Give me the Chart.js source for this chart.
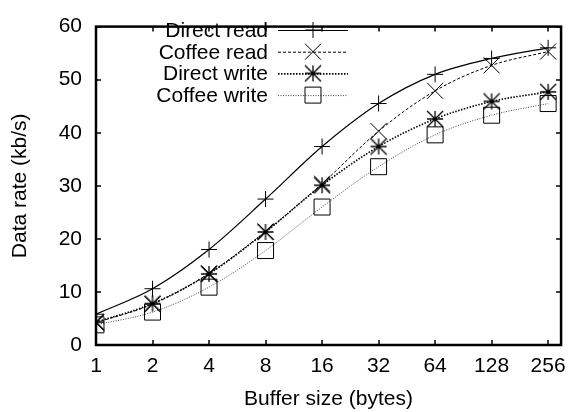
<!DOCTYPE html>
<html lang="en">
<head>
    <meta charset="UTF-8">
    <title>Data rate vs buffer size</title>
    <script src="https://cdn.jsdelivr.net/npm/chart.js"></script>
    <style>
        html, body { margin: 0; padding: 0; background: #fff; }
    </style>
</head>
<body>
    <canvas id="rateChart" width="575" height="412"></canvas>

    <script>
        // Buffer sizes (bytes), plotted on a log2 axis (xrange 1..300)
        const sizes = [1, 2, 4, 8, 16, 32, 64, 128, 256];
        const xMaxSize = 300;
        const yTicks = [0, 10, 20, 30, 40, 50, 60];

        // Data rate in kb/s
        const directRead  = [5.8, 10.6, 18.0, 27.5, 37.4, 45.5, 51.0, 54.0, 56.0];
        const coffeeRead  = [4.2, 7.7, 13.5, 21.4, 30.4, 40.3, 47.9, 52.7, 55.3];
        const directWrite = [4.3, 7.8, 13.4, 21.3, 30.1, 37.4, 42.6, 45.9, 47.7];
        const coffeeWrite = [3.8, 6.2, 10.9, 17.8, 26.0, 33.6, 39.6, 43.3, 45.5];

        const FONT = 'Liberation Sans, Arial, Helvetica, sans-serif';
        const FSIZE = 21;

        // gnuplot-like "*" marker: + and x sharing the same box
        function starMarker(h) {
            const c = document.createElement('canvas');
            const s = 2 * h + 2;
            c.width = s; c.height = s;
            const g = c.getContext('2d');
            const m = s / 2;
            g.strokeStyle = '#000';
            g.lineWidth = 1.3;
            g.beginPath();
            g.moveTo(m - h, m); g.lineTo(m + h, m);
            g.moveTo(m, m - h); g.lineTo(m, m + h);
            g.moveTo(m - h, m - h); g.lineTo(m + h, m + h);
            g.moveTo(m - h, m + h); g.lineTo(m + h, m - h);
            g.stroke();
            g.fillStyle = '#000';
            g.beginPath();
            g.arc(m, m, 1.6, 0, Math.PI * 2);
            g.fill();
            return c;
        }

        function toPoints(vals) {
            return vals.map((v, i) => ({ x: Math.log2(sizes[i]), y: v }));
        }

        function series(label, vals, style, radius, dash, width, color) {
            return {
                label: label,
                data: toPoints(vals),
                borderColor: color,
                borderWidth: width,
                borderDash: dash,
                pointStyle: style,
                pointRadius: radius,
                pointHoverRadius: radius,
                pointBorderColor: '#000',
                pointBorderWidth: 1,
                pointBackgroundColor: 'rgba(0,0,0,0)',
                cubicInterpolationMode: 'monotone',
                fill: false
            };
        }

        // inward ticks on all four sides + full frame
        const framePlugin = {
            id: 'frame',
            afterDraw(chart) {
                const ctx = chart.ctx;
                const a = chart.chartArea;
                const xs = chart.scales.x, ys = chart.scales.y;
                ctx.save();
                ctx.strokeStyle = '#000';
                ctx.lineWidth = 1.5;
                ctx.beginPath();
                sizes.forEach(s => {
                    const px = Math.round(xs.getPixelForValue(Math.log2(s)));
                    ctx.moveTo(px, a.bottom); ctx.lineTo(px, a.bottom - 5);
                    ctx.moveTo(px, a.top); ctx.lineTo(px, a.top + 5);
                });
                yTicks.forEach(t => {
                    const py = Math.round(ys.getPixelForValue(t));
                    ctx.moveTo(a.left, py); ctx.lineTo(a.left + 5, py);
                    ctx.moveTo(a.right, py); ctx.lineTo(a.right - 5, py);
                });
                ctx.stroke();
                ctx.lineWidth = 2.5;
                ctx.strokeRect(a.left, a.top, a.right - a.left, a.bottom - a.top);
                ctx.restore();
            }
        };

        // key in the top-left corner: right-aligned text, sample line, marker
        const keyPlugin = {
            id: 'key',
            afterDraw(chart) {
                const ctx = chart.ctx;
                const textRight = 268, lineL = 278, lineR = 348, rowY0 = 30, rowH = 21.7;
                ctx.save();
                ctx.font = FSIZE + 'px ' + FONT;
                ctx.textAlign = 'right';
                ctx.textBaseline = 'alphabetic';
                chart.data.datasets.forEach((ds, i) => {
                    const y = rowY0 + i * rowH;
                    ctx.fillStyle = '#000';
                    ctx.fillText(ds.label, textRight, y + 7);
                    ctx.beginPath();
                    ctx.setLineDash(ds.borderDash);
                    ctx.strokeStyle = ds.borderColor;
                    ctx.lineWidth = ds.borderWidth;
                    ctx.moveTo(lineL, y + 0.5);
                    ctx.lineTo(lineR, y + 0.5);
                    ctx.stroke();
                    ctx.setLineDash([]);
                    ctx.strokeStyle = '#000';
                    ctx.fillStyle = 'rgba(0,0,0,0)';
                    ctx.lineWidth = 1;
                    Chart.helpers.drawPoint(ctx, {
                        pointStyle: ds.pointStyle,
                        radius: ds.pointRadius,
                        rotation: 0,
                        borderWidth: 1
                    }, (lineL + lineR) / 2, y);
                });
                ctx.restore();
            }
        };

        const ctx = document.getElementById('rateChart').getContext('2d');
        new Chart(ctx, {
            type: 'line',
            data: {
                datasets: [
                    series('Direct read', directRead, 'cross', 8, [], 1.2, '#000'),
                    series('Coffee read', coffeeRead, 'crossRot', 11.3, [3, 2], 1, '#000'),
                    series('Direct write', directWrite, starMarker(8), 9, [1.5, 1.5], 1.6, '#000'),
                    series('Coffee write', coffeeWrite, 'rect', 11.3, [1, 1.5], 1, '#444')
                ]
            },
            options: {
                responsive: false,
                animation: false,
                events: [],
                layout: { padding: { top: 14, right: 10, left: 0, bottom: 0 } },
                plugins: {
                    legend: { display: false },
                    tooltip: { enabled: false }
                },
                scales: {
                    x: {
                        type: 'linear',
                        min: 0,
                        max: Math.log2(xMaxSize),
                        afterFit(scale) { scale.height = 67; },
                        afterBuildTicks(scale) {
                            scale.ticks = sizes.map(s => ({ value: Math.log2(s) }));
                        },
                        grid: { display: false, drawTicks: false },
                        border: { display: false },
                        ticks: {
                            color: '#000',
                            padding: 9,
                            maxRotation: 0,
                            autoSkip: false,
                            font: { family: FONT, size: FSIZE },
                            callback: v => String(Math.round(Math.pow(2, v)))
                        },
                        title: {
                            display: true,
                            text: 'Buffer size (bytes)',
                            color: '#000',
                            font: { family: FONT, size: FSIZE },
                            padding: { top: 4, bottom: 0 }
                        }
                    },
                    y: {
                        min: 0,
                        max: 60,
                        afterFit(scale) { scale.width = 96; },
                        afterBuildTicks(scale) {
                            scale.ticks = yTicks.map(t => ({ value: t }));
                        },
                        grid: { display: false, drawTicks: false },
                        border: { display: false },
                        ticks: {
                            color: '#000',
                            padding: 14,
                            font: { family: FONT, size: FSIZE }
                        },
                        title: {
                            display: true,
                            text: 'Data rate (kb/s)',
                            color: '#000',
                            font: { family: FONT, size: FSIZE },
                            padding: { top: 8, bottom: 4 }
                        }
                    }
                }
            },
            plugins: [framePlugin, keyPlugin]
        });
    </script>
</body>
</html>
